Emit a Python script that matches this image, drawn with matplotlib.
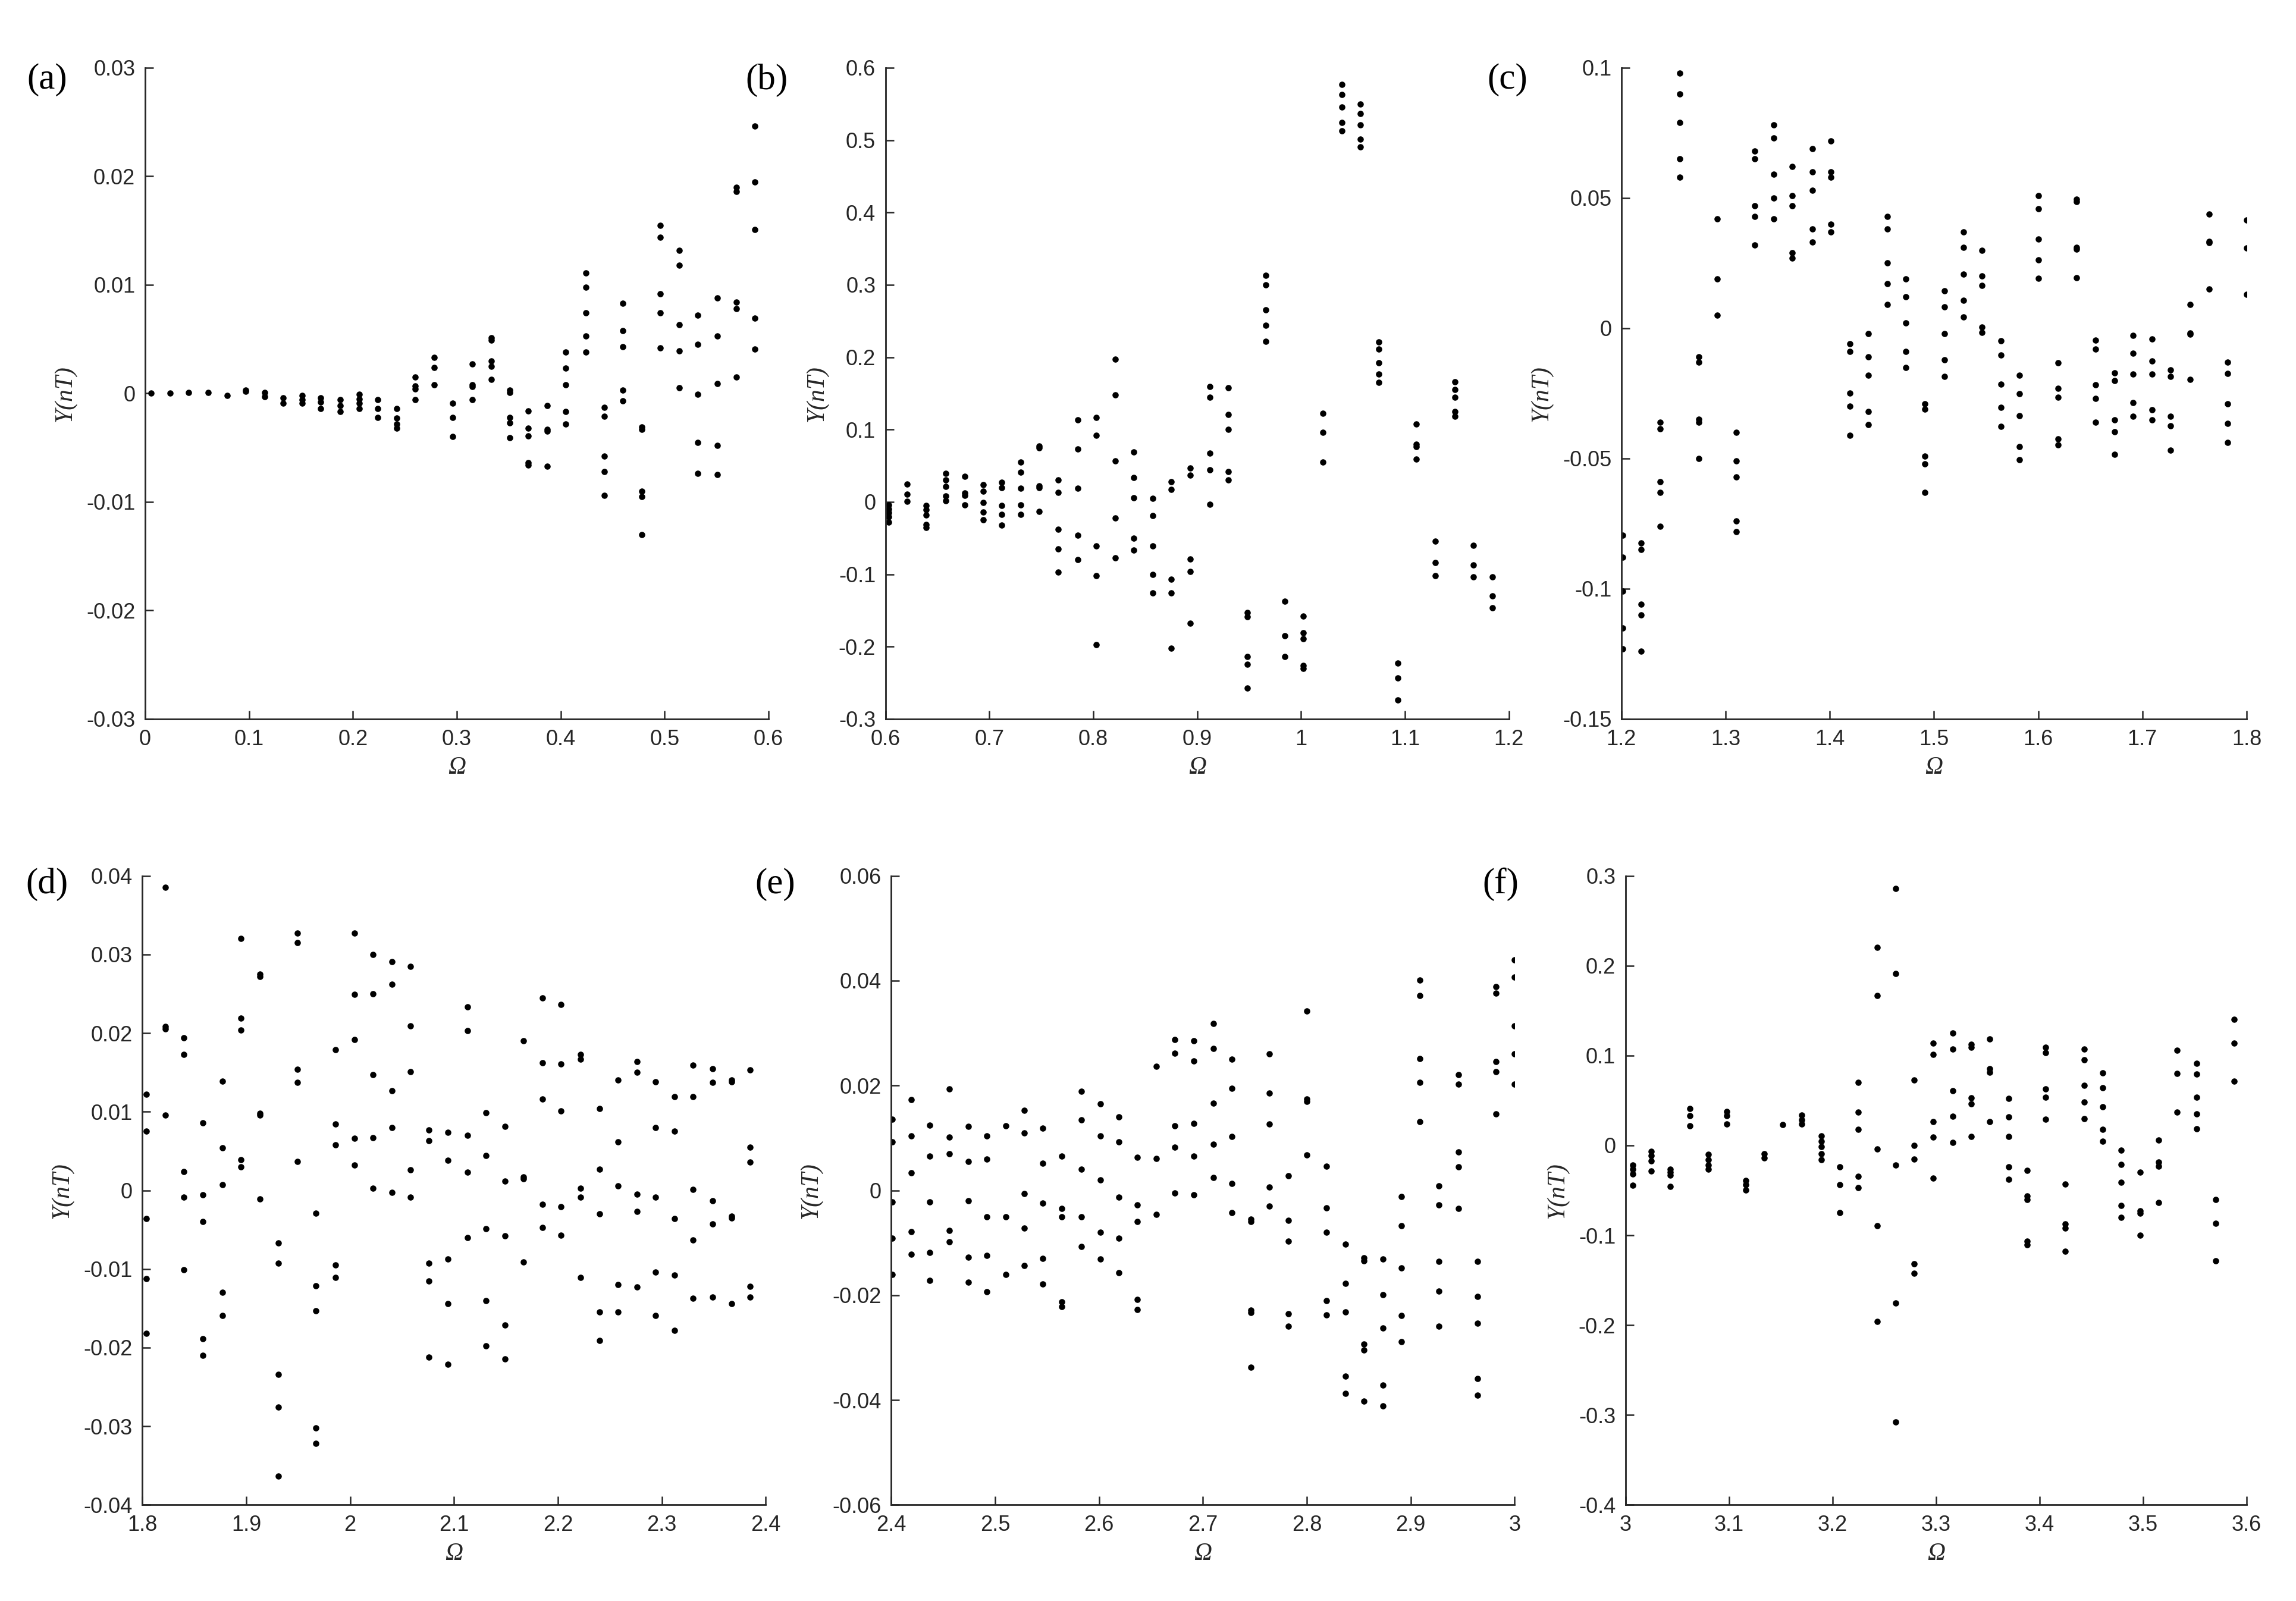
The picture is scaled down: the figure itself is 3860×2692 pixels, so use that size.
import matplotlib
matplotlib.use('Agg')
import matplotlib.pyplot as plt
from matplotlib.ticker import FuncFormatter, MultipleLocator

plt.rcParams['axes.unicode_minus'] = False

# -----------------------------------------------------------------------------
# data: Omega column positions and Y(nT) samples per column, one panel at a time
# -----------------------------------------------------------------------------

# (a)
omega_a = [0.006, 0.024, 0.042, 0.061, 0.079, 0.097, 0.115, 0.133, 0.151, 0.169, 0.188,
           0.206, 0.224, 0.242, 0.260, 0.278, 0.296, 0.315, 0.333, 0.351, 0.369, 0.387,
           0.405, 0.424, 0.442, 0.460, 0.478, 0.496, 0.514, 0.532, 0.551, 0.569, 0.587]
y_a = [[0.0], [0.0], [0.0001], [0.0001], [-0.0002], [0.0003, 0.0002], [0.0001, -0.0003],
       [-0.0004, -0.0009], [-0.0002, -0.0006, -0.0009], [-0.0004, -0.0008, -0.0014],
       [-0.0006, -0.0011, -0.0017], [-0.0001, -0.0005, -0.0009, -0.0014],
       [-0.0006, -0.0014, -0.0022], [-0.0014, -0.0023, -0.0028, -0.0032],
       [0.0015, 0.0007, 0.0004, -0.0006], [0.0033, 0.0024, 0.0008],
       [-0.0009, -0.0022, -0.0040], [0.0027, 0.0008, 0.0006, -0.0006],
       [0.0051, 0.0049, 0.0030, 0.0025, 0.0013], [0.0003, 0.0001, -0.0022, -0.0027, -0.0041],
       [-0.0016, -0.0032, -0.0039, -0.0064, -0.0066], [-0.0011, -0.0033, -0.0035, -0.0067],
       [0.0038, 0.0023, 0.0008, -0.0017, -0.0028], [0.0111, 0.0098, 0.0074, 0.0053, 0.0038],
       [-0.0013, -0.0021, -0.0058, -0.0072, -0.0094], [0.0083, 0.0058, 0.0043, 0.0003, -0.0007],
       [-0.0031, -0.0033, -0.0090, -0.0095, -0.0130], [0.0155, 0.0144, 0.0092, 0.0074, 0.0042],
       [0.0132, 0.0118, 0.0063, 0.0039, 0.0005], [0.0072, 0.0045, -0.0001, -0.0045, -0.0074],
       [0.0088, 0.0053, 0.0009, -0.0048, -0.0075], [0.0190, 0.0186, 0.0084, 0.0078, 0.0015],
       [0.0246, 0.0195, 0.0151, 0.0069, 0.0041]]

# (b)
omega_b = [0.603, 0.621, 0.639, 0.658, 0.676, 0.694, 0.712, 0.730, 0.748, 0.766, 0.785,
           0.803, 0.821, 0.839, 0.857, 0.875, 0.893, 0.912, 0.930, 0.948, 0.966, 0.984,
           1.002, 1.021, 1.039, 1.057, 1.075, 1.093, 1.111, 1.129, 1.148, 1.166, 1.184]
y_b = [[-0.004, -0.010, -0.015, -0.021, -0.028], [0.025, 0.011, 0.001],
       [-0.005, -0.011, -0.018, -0.031, -0.035], [0.039, 0.030, 0.021, 0.008, 0.002],
       [0.035, 0.012, 0.009, -0.004], [0.024, 0.015, -0.001, -0.014, -0.025],
       [0.027, 0.020, -0.005, -0.017, -0.032], [0.055, 0.041, 0.019, -0.004, -0.017],
       [0.077, 0.075, 0.022, 0.020, -0.013], [0.030, 0.013, -0.038, -0.065, -0.097],
       [0.113, 0.073, 0.019, -0.046, -0.080], [0.117, 0.092, -0.061, -0.102, -0.197],
       [0.197, 0.148, 0.057, -0.022, -0.077], [0.069, 0.034, 0.006, -0.050, -0.067],
       [0.005, -0.019, -0.061, -0.100, -0.126], [0.028, 0.017, -0.107, -0.126, -0.202],
       [0.047, 0.037, -0.079, -0.096, -0.168], [0.159, 0.145, 0.067, 0.044, -0.003],
       [0.158, 0.121, 0.100, 0.042, 0.030], [-0.153, -0.159, -0.214, -0.224, -0.257],
       [0.313, 0.300, 0.265, 0.244, 0.222], [-0.137, -0.185, -0.214],
       [-0.158, -0.181, -0.189, -0.226, -0.230], [0.122, 0.096, 0.055],
       [0.577, 0.563, 0.546, 0.524, 0.513], [0.550, 0.537, 0.521, 0.501, 0.491],
       [0.221, 0.211, 0.192, 0.177, 0.165], [-0.223, -0.243, -0.274],
       [0.108, 0.080, 0.076, 0.059], [-0.054, -0.084, -0.102],
       [0.166, 0.155, 0.145, 0.125, 0.118], [-0.060, -0.087, -0.104],
       [-0.104, -0.130, -0.146]]

# (c)
omega_c = [1.201, 1.219, 1.237, 1.256, 1.274, 1.292, 1.310, 1.328, 1.346, 1.364, 1.383,
           1.401, 1.419, 1.437, 1.455, 1.473, 1.491, 1.510, 1.528, 1.546, 1.564, 1.582,
           1.600, 1.619, 1.637, 1.655, 1.673, 1.691, 1.709, 1.727, 1.746, 1.764, 1.782, 1.800]
y_c = [[-0.0795, -0.088, -0.101, -0.115, -0.123], [-0.0825, -0.085, -0.106, -0.110, -0.124],
       [-0.036, -0.0385, -0.059, -0.063, -0.076], [0.098, 0.090, 0.079, 0.065, 0.058],
       [-0.011, -0.013, -0.035, -0.036, -0.050], [0.042, 0.019, 0.005],
       [-0.040, -0.051, -0.057, -0.074, -0.078], [0.068, 0.065, 0.047, 0.043, 0.032],
       [0.078, 0.073, 0.059, 0.050, 0.042], [0.062, 0.051, 0.047, 0.029, 0.027],
       [0.069, 0.060, 0.053, 0.038, 0.033], [0.072, 0.060, 0.058, 0.040, 0.037],
       [-0.006, -0.009, -0.025, -0.030, -0.041], [-0.002, -0.011, -0.018, -0.032, -0.037],
       [0.043, 0.038, 0.025, 0.017, 0.009], [0.019, 0.012, 0.002, -0.009, -0.015],
       [-0.029, -0.031, -0.049, -0.052, -0.063], [0.0144, 0.0082, -0.0021, -0.0121, -0.0185],
       [0.037, 0.031, 0.0207, 0.0107, 0.0044], [0.0298, 0.020, 0.0164, 0.0005, -0.0016],
       [-0.0049, -0.0103, -0.0215, -0.0303, -0.0377], [-0.018, -0.0252, -0.0336, -0.0454, -0.0505],
       [0.0508, 0.0459, 0.0343, 0.0262, 0.0192], [-0.0133, -0.023, -0.0266, -0.0425, -0.0448],
       [0.0495, 0.0485, 0.031, 0.0303, 0.0193], [-0.0046, -0.0079, -0.0216, -0.027, -0.036],
       [-0.0172, -0.020, -0.0352, -0.0397, -0.0484], [-0.0028, -0.0095, -0.0177, -0.0285, -0.0339],
       [-0.0041, -0.0125, -0.0177, -0.0313, -0.0352], [-0.016, -0.0184, -0.0339, -0.0374, -0.0469],
       [0.0092, -0.0018, -0.0022, -0.0197], [0.0439, 0.0334, 0.0328, 0.0151],
       [-0.0131, -0.0174, -0.029, -0.0366, -0.0438], [0.0416, 0.0307, 0.013]]

# (d)
omega_d = [1.804, 1.822, 1.840, 1.858, 1.877, 1.895, 1.913, 1.931, 1.949, 1.967, 1.986,
           2.004, 2.022, 2.040, 2.058, 2.076, 2.094, 2.113, 2.131, 2.149, 2.167, 2.185,
           2.203, 2.222, 2.240, 2.258, 2.276, 2.294, 2.312, 2.330, 2.349, 2.367, 2.385]
y_d = [[0.0122, 0.0075, -0.0036, -0.0112, -0.0182], [0.0385, 0.0208, 0.0205, 0.0096],
       [0.0194, 0.0173, 0.0024, -0.0009, -0.0101], [0.0086, -0.0006, -0.004, -0.0189, -0.021],
       [0.0139, 0.0054, 0.0007, -0.013, -0.0159], [0.032, 0.0219, 0.0204, 0.0039, 0.003],
       [0.0275, 0.0272, 0.0098, 0.0096, -0.0011], [-0.0067, -0.0093, -0.0234, -0.0276, -0.0363],
       [0.0327, 0.0315, 0.0154, 0.0137, 0.0037], [-0.0029, -0.0121, -0.0153, -0.0302, -0.0322],
       [0.0179, 0.0084, 0.0058, -0.0095, -0.0111], [0.0327, 0.0249, 0.0192, 0.0066, 0.0032],
       [0.030, 0.025, 0.0147, 0.0067, 0.0003], [0.0291, 0.0262, 0.0127, 0.008, -0.0003],
       [0.0285, 0.0209, 0.0151, 0.0026, -0.0009], [0.0077, 0.0063, -0.0093, -0.0115, -0.0212],
       [0.0074, 0.0038, -0.0087, -0.0144, -0.0221], [0.0233, 0.0203, 0.007, 0.0023, -0.006],
       [0.0099, 0.0044, -0.0049, -0.014, -0.0198], [0.0081, 0.0012, -0.0058, -0.0171, -0.0214],
       [0.019, 0.0017, 0.0015, -0.0091], [0.0245, 0.0162, 0.0116, -0.0018, -0.0047],
       [0.0236, 0.0161, 0.0101, -0.0021, -0.0057], [0.0173, 0.0167, 0.0003, -0.0009, -0.0111],
       [0.0104, 0.0027, -0.003, -0.0155, -0.0191], [0.014, 0.0062, 0.0006, -0.012, -0.0155],
       [0.0164, 0.015, -0.0005, -0.0027, -0.0123], [0.0138, 0.008, -0.0009, -0.0104, -0.0159],
       [0.0119, 0.0075, -0.0036, -0.0108, -0.0178], [0.0159, 0.0119, 0.0001, -0.0063, -0.0137],
       [0.0155, 0.0137, -0.0013, -0.0043, -0.0136], [0.0140, 0.0138, -0.0033, -0.0035, -0.0144],
       [0.0153, 0.0055, 0.0036, -0.0122, -0.0136]]

# (e)
omega_e = [2.401, 2.419, 2.437, 2.456, 2.474, 2.492, 2.510, 2.528, 2.546, 2.564, 2.583,
           2.601, 2.619, 2.637, 2.655, 2.673, 2.691, 2.710, 2.728, 2.746, 2.764, 2.782,
           2.800, 2.819, 2.837, 2.855, 2.873, 2.891, 2.909, 2.927, 2.946, 2.964, 2.982, 3.000]
y_e = [[0.0135, 0.0092, -0.0022, -0.0091, -0.0161], [0.0173, 0.0104, 0.0034, -0.0079, -0.0122],
       [0.0124, 0.0065, -0.0022, -0.0118, -0.0172], [0.0193, 0.0102, 0.007, -0.0076, -0.0098],
       [0.0122, 0.0055, -0.002, -0.0128, -0.0175], [0.0104, 0.0059, -0.0051, -0.0124, -0.0193],
       [0.0123, -0.0051, -0.016], [0.0152, 0.011, -0.0006, -0.0072, -0.0144],
       [0.0118, 0.0052, -0.0024, -0.013, -0.0179], [0.0065, -0.0035, -0.005, -0.0213, -0.0222],
       [0.0189, 0.0134, 0.004, -0.005, -0.0107], [0.0165, 0.0104, 0.002, -0.008, -0.0131],
       [0.014, 0.0092, -0.0013, -0.0091, -0.0157], [0.0063, -0.0028, -0.006, -0.0208, -0.0227],
       [0.0236, 0.0061, -0.0046], [0.0287, 0.0262, 0.0123, 0.0082, -0.0005],
       [0.0285, 0.0247, 0.0128, 0.0065, -0.0008], [0.0318, 0.027, 0.0166, 0.0088, 0.0024],
       [0.025, 0.0194, 0.0103, 0.0013, -0.0043], [-0.0055, -0.0059, -0.0229, -0.0233, -0.0337],
       [0.026, 0.0186, 0.0127, 0.0006, -0.003], [0.0028, -0.0057, -0.0097, -0.0235, -0.0259],
       [0.0342, 0.0174, 0.017, 0.0068], [0.0046, -0.0034, -0.008, -0.021, -0.0238],
       [-0.0103, -0.0178, -0.0232, -0.0354, -0.0387], [-0.0129, -0.0134, -0.0293, -0.0305, -0.0402],
       [-0.0131, -0.0199, -0.0263, -0.0372, -0.0411], [-0.0012, -0.0068, -0.0148, -0.0239, -0.0289],
       [0.0401, 0.0372, 0.0251, 0.0206, 0.0131], [0.0009, -0.0028, -0.0135, -0.0192, -0.0259],
       [0.0221, 0.0203, 0.0073, 0.0045, -0.0035], [-0.0136, -0.0202, -0.0253, -0.0359, -0.0391],
       [0.0388, 0.0376, 0.0246, 0.0226, 0.0146], [0.044, 0.0407, 0.0314, 0.026, 0.0203]]

# (f)
omega_f = [3.007, 3.025, 3.043, 3.062, 3.080, 3.098, 3.116, 3.134, 3.152, 3.170, 3.189,
           3.207, 3.225, 3.243, 3.261, 3.279, 3.297, 3.316, 3.334, 3.352, 3.370, 3.388,
           3.406, 3.425, 3.443, 3.461, 3.479, 3.497, 3.515, 3.533, 3.552, 3.570, 3.588]
y_f = [[-0.022, -0.0266, -0.032, -0.0446], [-0.0069, -0.0115, -0.0175, -0.0285],
       [-0.0266, -0.030, -0.033, -0.046], [0.041, 0.033, 0.022],
       [-0.010, -0.016, -0.022, -0.0266], [0.038, 0.033, 0.024],
       [-0.039, -0.0436, -0.0496], [-0.009, -0.0138], [0.023],
       [0.0335, 0.0285, 0.024], [0.0106, 0.0046, -0.0014, -0.009, -0.016],
       [-0.024, -0.0436, -0.075], [0.070, 0.0367, 0.0175, -0.0345, -0.0469],
       [0.2205, 0.167, -0.0037, -0.0896, -0.1957], [0.2857, 0.191, -0.022, -0.1755, -0.3078],
       [0.073, 0.0, -0.0152, -0.1318, -0.1424], [0.114, 0.101, 0.0266, 0.0092, -0.0367],
       [0.125, 0.107, 0.0606, 0.0322, 0.0032], [0.1125, 0.109, 0.0528, 0.046, 0.0101],
       [0.1185, 0.0856, 0.0816, 0.0266], [0.0524, 0.0317, 0.0101, -0.0239, -0.0377],
       [-0.028, -0.0563, -0.0603, -0.1064, -0.1104], [0.1093, 0.1034, 0.0629, 0.0537, 0.0289],
       [-0.0432, -0.0873, -0.0919, -0.118], [0.107, 0.0955, 0.0666, 0.0482, 0.0299],
       [0.0804, 0.0643, 0.0432, 0.0179, 0.0046], [-0.0051, -0.0211, -0.0413, -0.0666, -0.0799],
       [-0.0299, -0.0726, -0.0758, -0.0997], [0.006, -0.0184, -0.023, -0.0634],
       [0.1061, 0.0799, 0.0367], [0.091, 0.0795, 0.0537, 0.0349, 0.0188],
       [-0.0602, -0.0864, -0.1286], [0.140, 0.114, 0.0717]]

panel_labels = ['(a)', '(b)', '(c)', '(d)', '(e)', '(f)']
x_limits = [(0, 0.6), (0.6, 1.2), (1.2, 1.8), (1.8, 2.4), (2.4, 3.0), (3.0, 3.6)]
y_limits = [(-0.03, 0.03), (-0.3, 0.6), (-0.15, 0.1), (-0.04, 0.04), (-0.06, 0.06), (-0.4, 0.3)]
y_steps = [0.01, 0.1, 0.05, 0.01, 0.02, 0.1]

# -----------------------------------------------------------------------------
# plotting
# -----------------------------------------------------------------------------

fig = plt.figure(figsize=(19.3, 13.46), dpi=200)

# axes boxes [left, bottom, width, height] in figure fractions
boxes = [[0.0632, 0.5509, 0.2715, 0.4068],
         [0.3857, 0.5509, 0.2715, 0.4068],
         [0.7062, 0.5509, 0.2723, 0.4068],
         [0.0620, 0.0600, 0.2715, 0.3930],
         [0.3882, 0.0600, 0.2715, 0.3930],
         [0.7080, 0.0600, 0.2705, 0.3930]]
label_pos = [(0.0205, 0.950), (0.334, 0.950), (0.6565, 0.950),
             (0.0205, 0.4476), (0.3375, 0.4476), (0.6535, 0.4476)]

omegas = [omega_a, omega_b, omega_c, omega_d, omega_e, omega_f]
ys = [y_a, y_b, y_c, y_d, y_e, y_f]

grey = '#262626'
fmt = FuncFormatter(lambda v, p: '%g' % round(v, 6))

for i in range(6):
    ax = fig.add_axes(boxes[i])

    xs = []
    yv = []
    for om, col in zip(omegas[i], ys[i]):
        for v in col:
            xs.append(om)
            yv.append(v)

    ax.plot(xs, yv, linestyle='none', marker='o', markersize=2.8, color='black')

    ax.set_xlim(x_limits[i])
    ax.set_ylim(y_limits[i])
    ax.xaxis.set_major_locator(MultipleLocator(0.1))
    ax.yaxis.set_major_locator(MultipleLocator(y_steps[i]))
    ax.xaxis.set_major_formatter(fmt)
    ax.yaxis.set_major_formatter(fmt)

    # matlab look - no box, ticks inward
    ax.spines['top'].set_visible(False)
    ax.spines['right'].set_visible(False)
    for s in ['left', 'bottom']:
        ax.spines[s].set_color(grey)
        ax.spines[s].set_linewidth(1.0)
    ax.tick_params(direction='in', length=5, width=0.9, colors=grey,
                   labelsize=13, pad=6)
    for lab in ax.get_xticklabels() + ax.get_yticklabels():
        lab.set_fontfamily('Liberation Sans')

    ax.set_xlabel('Ω', fontfamily='Liberation Serif', fontstyle='italic',
                  fontsize=15, color=grey, labelpad=4)
    ax.set_ylabel('Y(nT)', fontfamily='Liberation Serif', fontstyle='italic',
                  fontsize=15, color=grey, labelpad=6)

    fig.text(label_pos[i][0], label_pos[i][1], panel_labels[i],
             fontfamily='Liberation Serif', fontsize=22, color='black',
             ha='center', va='center')

fig.savefig('out.png', dpi=200)
